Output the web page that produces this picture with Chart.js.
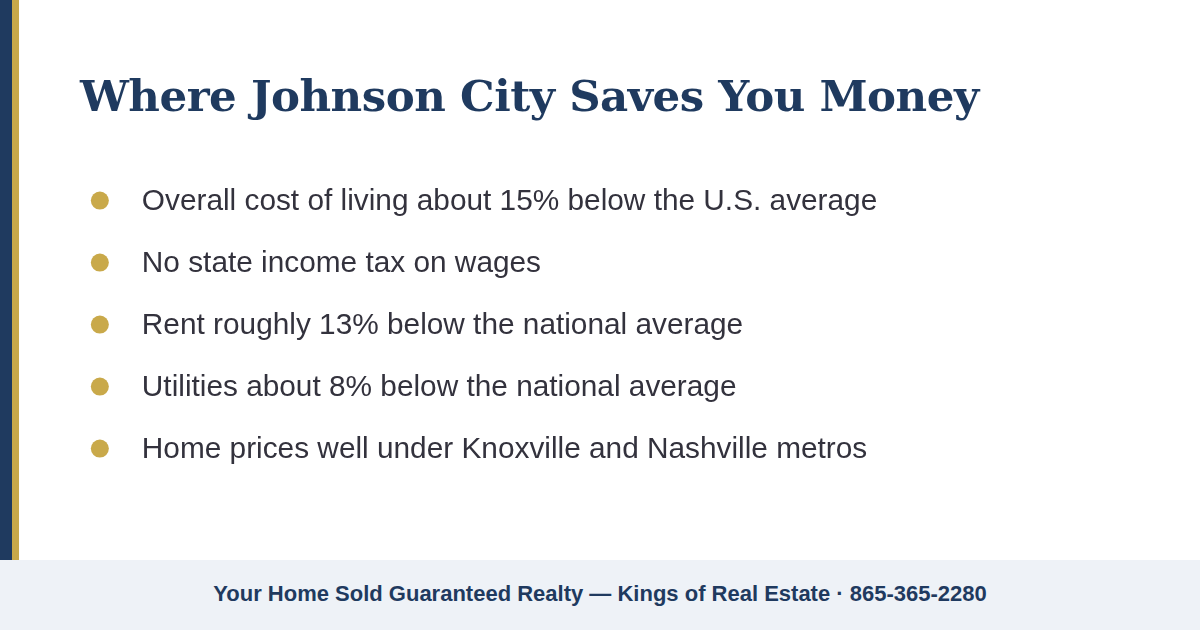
<!DOCTYPE html>
<html>
<head>
<meta charset="utf-8">
<script src="https://cdn.jsdelivr.net/npm/chart.js@4"></script>
<style>
  html, body { margin: 0; padding: 0; background: #fff; }
  #page { position: relative; width: 1200px; height: 630px; overflow: hidden; }
  .bar-navy { position: absolute; left: 0; top: 0; width: 12px; height: 560px; background: #1f3a5f; }
  .bar-gold { position: absolute; left: 12px; top: 0; width: 7px; height: 560px; background: #c9a94a; }
  h1 { position: absolute; left: 80px; top: 70px; margin: 0; font: bold 43.5px "DejaVu Serif", Georgia, serif; color: #1f3a5f; letter-spacing: -0.5px; }
  #chart { position: absolute; left: 0; top: 0; }
  .footer { position: absolute; left: 0; top: 560px; width: 1200px; height: 70px; background: #eef2f7;
            font: bold 22px Arial, "Liberation Sans", sans-serif; color: #1f3a5f; text-align: center; line-height: 68px; }
</style>
</head>
<body>
<div id="page">
  <canvas id="chart" width="1200" height="560"></canvas>
  <div class="bar-navy"></div>
  <div class="bar-gold"></div>
  <h1>Where Johnson City Saves You Money</h1>
  <div class="footer">Your Home Sold Guaranteed Realty — Kings of Real Estate · 865-365-2280</div>
</div>
<script>
const bullets = [
  "Overall cost of living about 15% below the U.S. average",
  "No state income tax on wages",
  "Rent roughly 13% below the national average",
  "Utilities about 8% below the national average",
  "Home prices well under Knoxville and Nashville metros"
];
const bulletIndex = bullets.map((b, i) => i);

const labelPlugin = {
  id: 'bulletLabels',
  afterDatasetsDraw(chart) {
    const ctx = chart.ctx;
    const meta = chart.getDatasetMeta(0);
    ctx.save();
    ctx.font = '29.8px Arial, "Liberation Sans", sans-serif';
    ctx.fillStyle = '#33323d';
    ctx.textBaseline = 'middle';
    meta.data.forEach((pt, i) => ctx.fillText(bullets[i], pt.x + 42, pt.y + 1));
    ctx.restore();
  }
};

new Chart(document.getElementById('chart'), {
  type: 'scatter',
  data: {
    datasets: [{
      data: bulletIndex.map(i => ({ x: 0, y: i })),
      pointRadius: 9,
      pointHoverRadius: 9,
      backgroundColor: '#c9a94a',
      borderWidth: 0
    }]
  },
  options: {
    responsive: false,
    animation: false,
    maintainAspectRatio: false,
    layout: { padding: 0 },
    plugins: { legend: { display: false }, tooltip: { enabled: false } },
    scales: {
      x: { display: false, min: -91, max: 1093 },
      y: { display: false, reverse: true, min: -3.089, max: 5.653 }
    }
  },
  plugins: [labelPlugin]
});
</script>
</body>
</html>
